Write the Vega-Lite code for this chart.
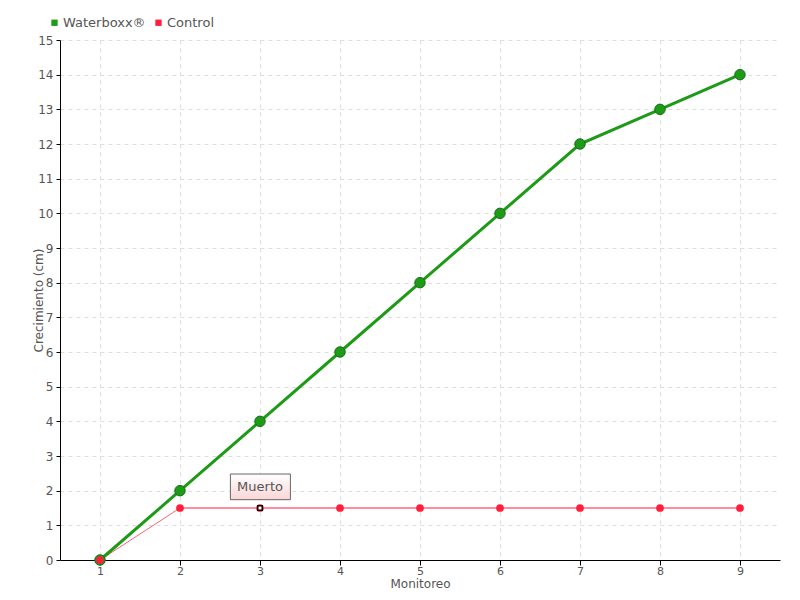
{
  "$schema": "https://vega.github.io/schema/vega-lite/v6.json",
  "width": 720,
  "height": 520,
  "autosize": {"type": "none"},
  "padding": {"left": 60, "top": 40, "right": 20, "bottom": 40},
  "background": "white",
  "config": {
    "font": "DejaVu Sans",
    "view": {"stroke": null},
    "axis": {"labelFont": "DejaVu Sans", "titleFont": "DejaVu Sans", "labelColor": "#555", "titleColor": "#555", "labelFontSize": 12, "titleFontSize": 12, "titleFontWeight": "normal", "domainColor": "black", "tickColor": "black", "gridColor": "#dddddd", "gridDash": [4, 4], "labelOverlap": false}
  },
  "datasets": {
    "series": [
      {"monitoreo": 1, "valor": 0, "serie": "Waterboxx®"},
      {"monitoreo": 2, "valor": 2, "serie": "Waterboxx®"},
      {"monitoreo": 3, "valor": 4, "serie": "Waterboxx®"},
      {"monitoreo": 4, "valor": 6, "serie": "Waterboxx®"},
      {"monitoreo": 5, "valor": 8, "serie": "Waterboxx®"},
      {"monitoreo": 6, "valor": 10, "serie": "Waterboxx®"},
      {"monitoreo": 7, "valor": 12, "serie": "Waterboxx®"},
      {"monitoreo": 8, "valor": 13, "serie": "Waterboxx®"},
      {"monitoreo": 9, "valor": 14, "serie": "Waterboxx®"},
      {"monitoreo": 1, "valor": 0, "serie": "Control"},
      {"monitoreo": 2, "valor": 1.5, "serie": "Control"},
      {"monitoreo": 3, "valor": 1.5, "serie": "Control"},
      {"monitoreo": 4, "valor": 1.5, "serie": "Control"},
      {"monitoreo": 5, "valor": 1.5, "serie": "Control"},
      {"monitoreo": 6, "valor": 1.5, "serie": "Control"},
      {"monitoreo": 7, "valor": 1.5, "serie": "Control"},
      {"monitoreo": 8, "valor": 1.5, "serie": "Control"},
      {"monitoreo": 9, "valor": 1.5, "serie": "Control"}
    ],
    "note": [
      {"x": 2.63, "x2": 3.38, "y": 1.74, "y2": 2.48, "ty": 2.11, "tx": 3.0, "px": 3, "py": 1.5, "label": "Muerto"}
    ]
  },
  "encoding": {
    "x": {"field": "monitoreo", "type": "quantitative", "scale": {"domain": [0.5, 9.5], "nice": false, "zero": false},
      "axis": {"title": "Monitoreo", "values": [1,2,3,4,5,6,7,8,9], "format": "d", "titleY": 18, "titleBaseline": "top", "tickSize": 5, "labelPadding": 0, "labelFontSize": 11, "grid": true}},
    "y": {"field": "valor", "type": "quantitative", "scale": {"domain": [0, 15], "nice": false},
      "axis": {"title": "Crecimiento (cm)", "values": [0,1,2,3,4,5,6,7,8,9,10,11,12,13,14,15], "format": "d", "tickSize": 4, "labelPadding": 3, "titleX": -22, "titleY": 260, "titleBaseline": "middle", "titleAlign": "center", "grid": true}}
  },
  "layer": [
    {
      "data": {"name": "series"},
      "transform": [{"filter": "datum.serie == 'Control' && datum.monitoreo <= 2"}],
      "mark": {"type": "line", "color": "#ff1f3d", "strokeWidth": 1, "opacity": 0.7}
    },
    {
      "data": {"name": "series"},
      "transform": [{"filter": "datum.serie == 'Control' && datum.monitoreo >= 2"}],
      "mark": {"type": "line", "color": "#ff1f3d", "strokeWidth": 1}
    },
    {
      "data": {"name": "series"},
      "transform": [{"filter": "datum.serie == 'Waterboxx®'"}],
      "mark": {"type": "line", "color": "#1d9a16", "strokeWidth": 3}
    },
    {
      "data": {"name": "series"},
      "transform": [{"filter": "datum.serie == 'Waterboxx®'"}],
      "mark": {"type": "point", "shape": "circle", "filled": true, "size": 110, "color": "#1d9a16", "stroke": "#16701a", "strokeWidth": 1, "opacity": 1}
    },
    {
      "data": {"name": "series"},
      "transform": [{"filter": "datum.serie == 'Control'"}],
      "mark": {"type": "point", "shape": "circle", "filled": true, "size": 60, "opacity": 1},
      "encoding": {
        "color": {"field": "serie", "type": "nominal", "scale": {"domain": ["Waterboxx®", "Control"], "range": ["#1d9a16", "#ff1f3d"]},
          "legend": {"title": null, "orient": "none", "legendX": -12, "legendY": -24, "direction": "horizontal", "symbolType": "square", "symbolSize": 40, "labelFontSize": 13, "labelColor": "#555", "labelFont": "DejaVu Sans", "columnPadding": 6, "symbolOpacity": 1, "labelOffset": 2}}
      }
    },
    {
      "data": {"name": "note"},
      "mark": {"type": "rect", "fill": {"x1": 0, "y1": 0, "x2": 0, "y2": 1, "gradient": "linear", "stops": [{"offset": 0, "color": "#ffffff"}, {"offset": 1, "color": "#fbd6d6"}]}, "stroke": "#666", "strokeWidth": 1},
      "encoding": {"x": {"field": "x", "type": "quantitative"}, "x2": {"field": "x2"}, "y": {"field": "y", "type": "quantitative"}, "y2": {"field": "y2"}}
    },
    {
      "data": {"name": "note"},
      "mark": {"type": "text", "fontSize": 13, "color": "#555", "baseline": "middle", "align": "center", "font": "DejaVu Sans"},
      "encoding": {"x": {"field": "tx", "type": "quantitative"}, "y": {"field": "ty", "type": "quantitative"}, "text": {"field": "label"}}
    },
    {
      "data": {"name": "note"},
      "mark": {"type": "point", "shape": "square", "filled": true, "fill": "white", "stroke": "black", "strokeWidth": 1.5, "size": 20, "opacity": 1},
      "encoding": {"x": {"field": "px", "type": "quantitative"}, "y": {"field": "py", "type": "quantitative"}}
    }
  ]
}
